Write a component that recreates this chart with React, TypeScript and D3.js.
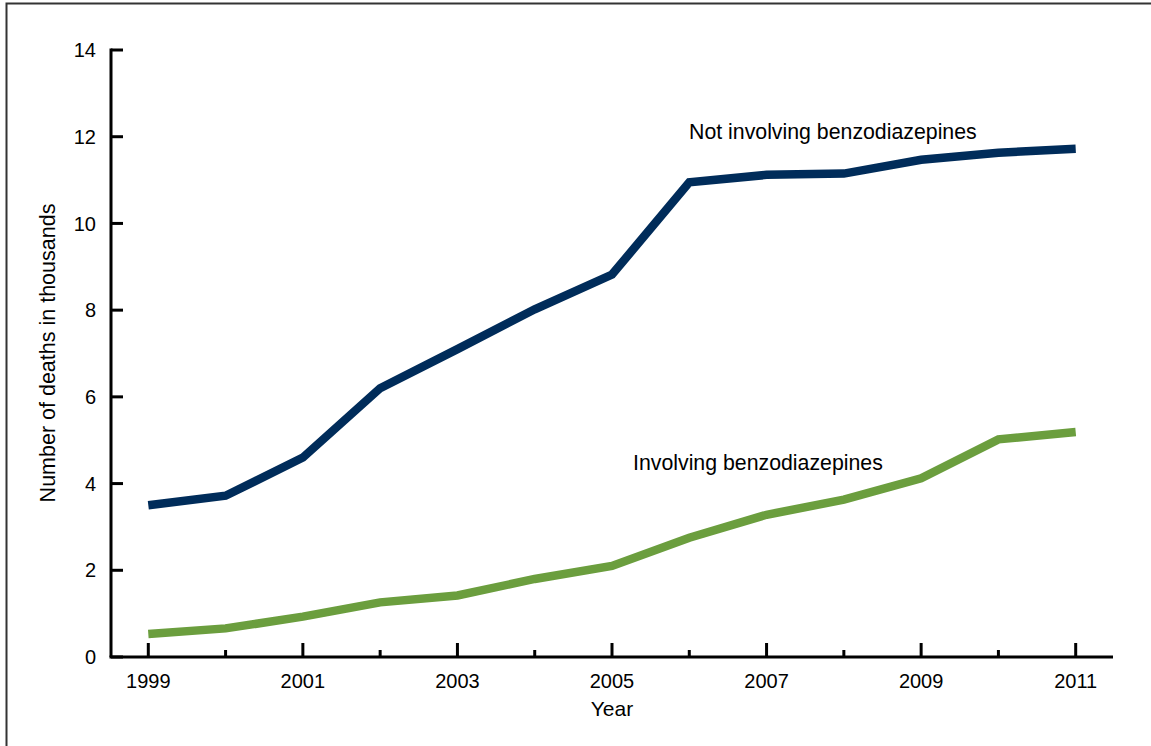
import * as d3 from "d3";

const years = [1999, 2000, 2001, 2002, 2003, 2004, 2005, 2006, 2007, 2008, 2009, 2010, 2011];
const notInvolving = [3.5, 3.72, 4.6, 6.2, 7.1, 8.02, 8.82, 10.95, 11.12, 11.15, 11.47, 11.63, 11.72];
const involving = [0.53, 0.66, 0.93, 1.26, 1.42, 1.8, 2.1, 2.75, 3.28, 3.63, 4.12, 5.02, 5.19];
const yTicks = [0, 2, 4, 6, 8, 10, 12, 14];
const xLabelYears = [1999, 2001, 2003, 2005, 2007, 2009, 2011];

const W = 1151,
  H = 746;
const font = "'Liberation Sans', Arial, sans-serif";

export default function App() {
  const x = d3.scaleLinear().domain([1999, 2011]).range([148.3, 1075.7]);
  const y = d3.scaleLinear().domain([0, 14]).range([657, 50]);
  const axisX = 111;

  const line = d3
    .line<number>()
    .x((_, i) => x(years[i]))
    .y((d) => y(d));

  return (
    <svg
      width={W}
      height={H}
      style={{ position: "absolute", left: 0, top: 0, background: "#fff" }}
      fontFamily={font}
    >
      {/* frame */}
      <rect x={6.5} y={3.5} width={W + 20} height={H + 20} fill="none" stroke="#333" strokeWidth={2} />

      {/* y axis */}
      <line x1={axisX} x2={axisX} y1={y(14) - 1.5} y2={y(0)} stroke="#000" strokeWidth={3} />
      {yTicks.map((t) => (
        <g key={t}>
          <line x1={axisX} x2={axisX + 12} y1={y(t)} y2={y(t)} stroke="#000" strokeWidth={3} />
          <text x={96} y={y(t)} dy="0.36em" textAnchor="end" fontSize={20} fill="#000">
            {t}
          </text>
        </g>
      ))}

      {/* x axis */}
      <line x1={axisX - 1.5} x2={1113} y1={y(0)} y2={y(0)} stroke="#000" strokeWidth={3} />
      {years.map((yr) => {
        const major = (yr - 1999) % 2 === 0;
        return (
          <line
            key={yr}
            x1={x(yr)}
            x2={x(yr)}
            y1={y(0)}
            y2={y(0) - (major ? 14 : 7)}
            stroke="#000"
            strokeWidth={3}
          />
        );
      })}
      {xLabelYears.map((yr) => (
        <text key={yr} x={x(yr)} y={688} textAnchor="middle" fontSize={20} fill="#000">
          {yr}
        </text>
      ))}

      {/* axis titles */}
      <text x={x(2005)} y={716} textAnchor="middle" fontSize={21} fill="#000">
        Year
      </text>
      <text
        transform={`translate(55,${353}) rotate(-90)`}
        textAnchor="middle"
        fontSize={21.5}
        fill="#000"
      >
        Number of deaths in thousands
      </text>

      {/* series */}
      <path d={line(notInvolving) ?? ""} fill="none" stroke="#002c5a" strokeWidth={8.5} strokeLinejoin="miter" />
      <path d={line(involving) ?? ""} fill="none" stroke="#6b9e3e" strokeWidth={8.5} strokeLinejoin="miter" />

      {/* labels */}
      <text x={689} y={139} fontSize={21.3} fill="#000">
        Not involving benzodiazepines
      </text>
      <text x={633} y={470} fontSize={21.3} fill="#000">
        Involving benzodiazepines
      </text>
    </svg>
  );
}
